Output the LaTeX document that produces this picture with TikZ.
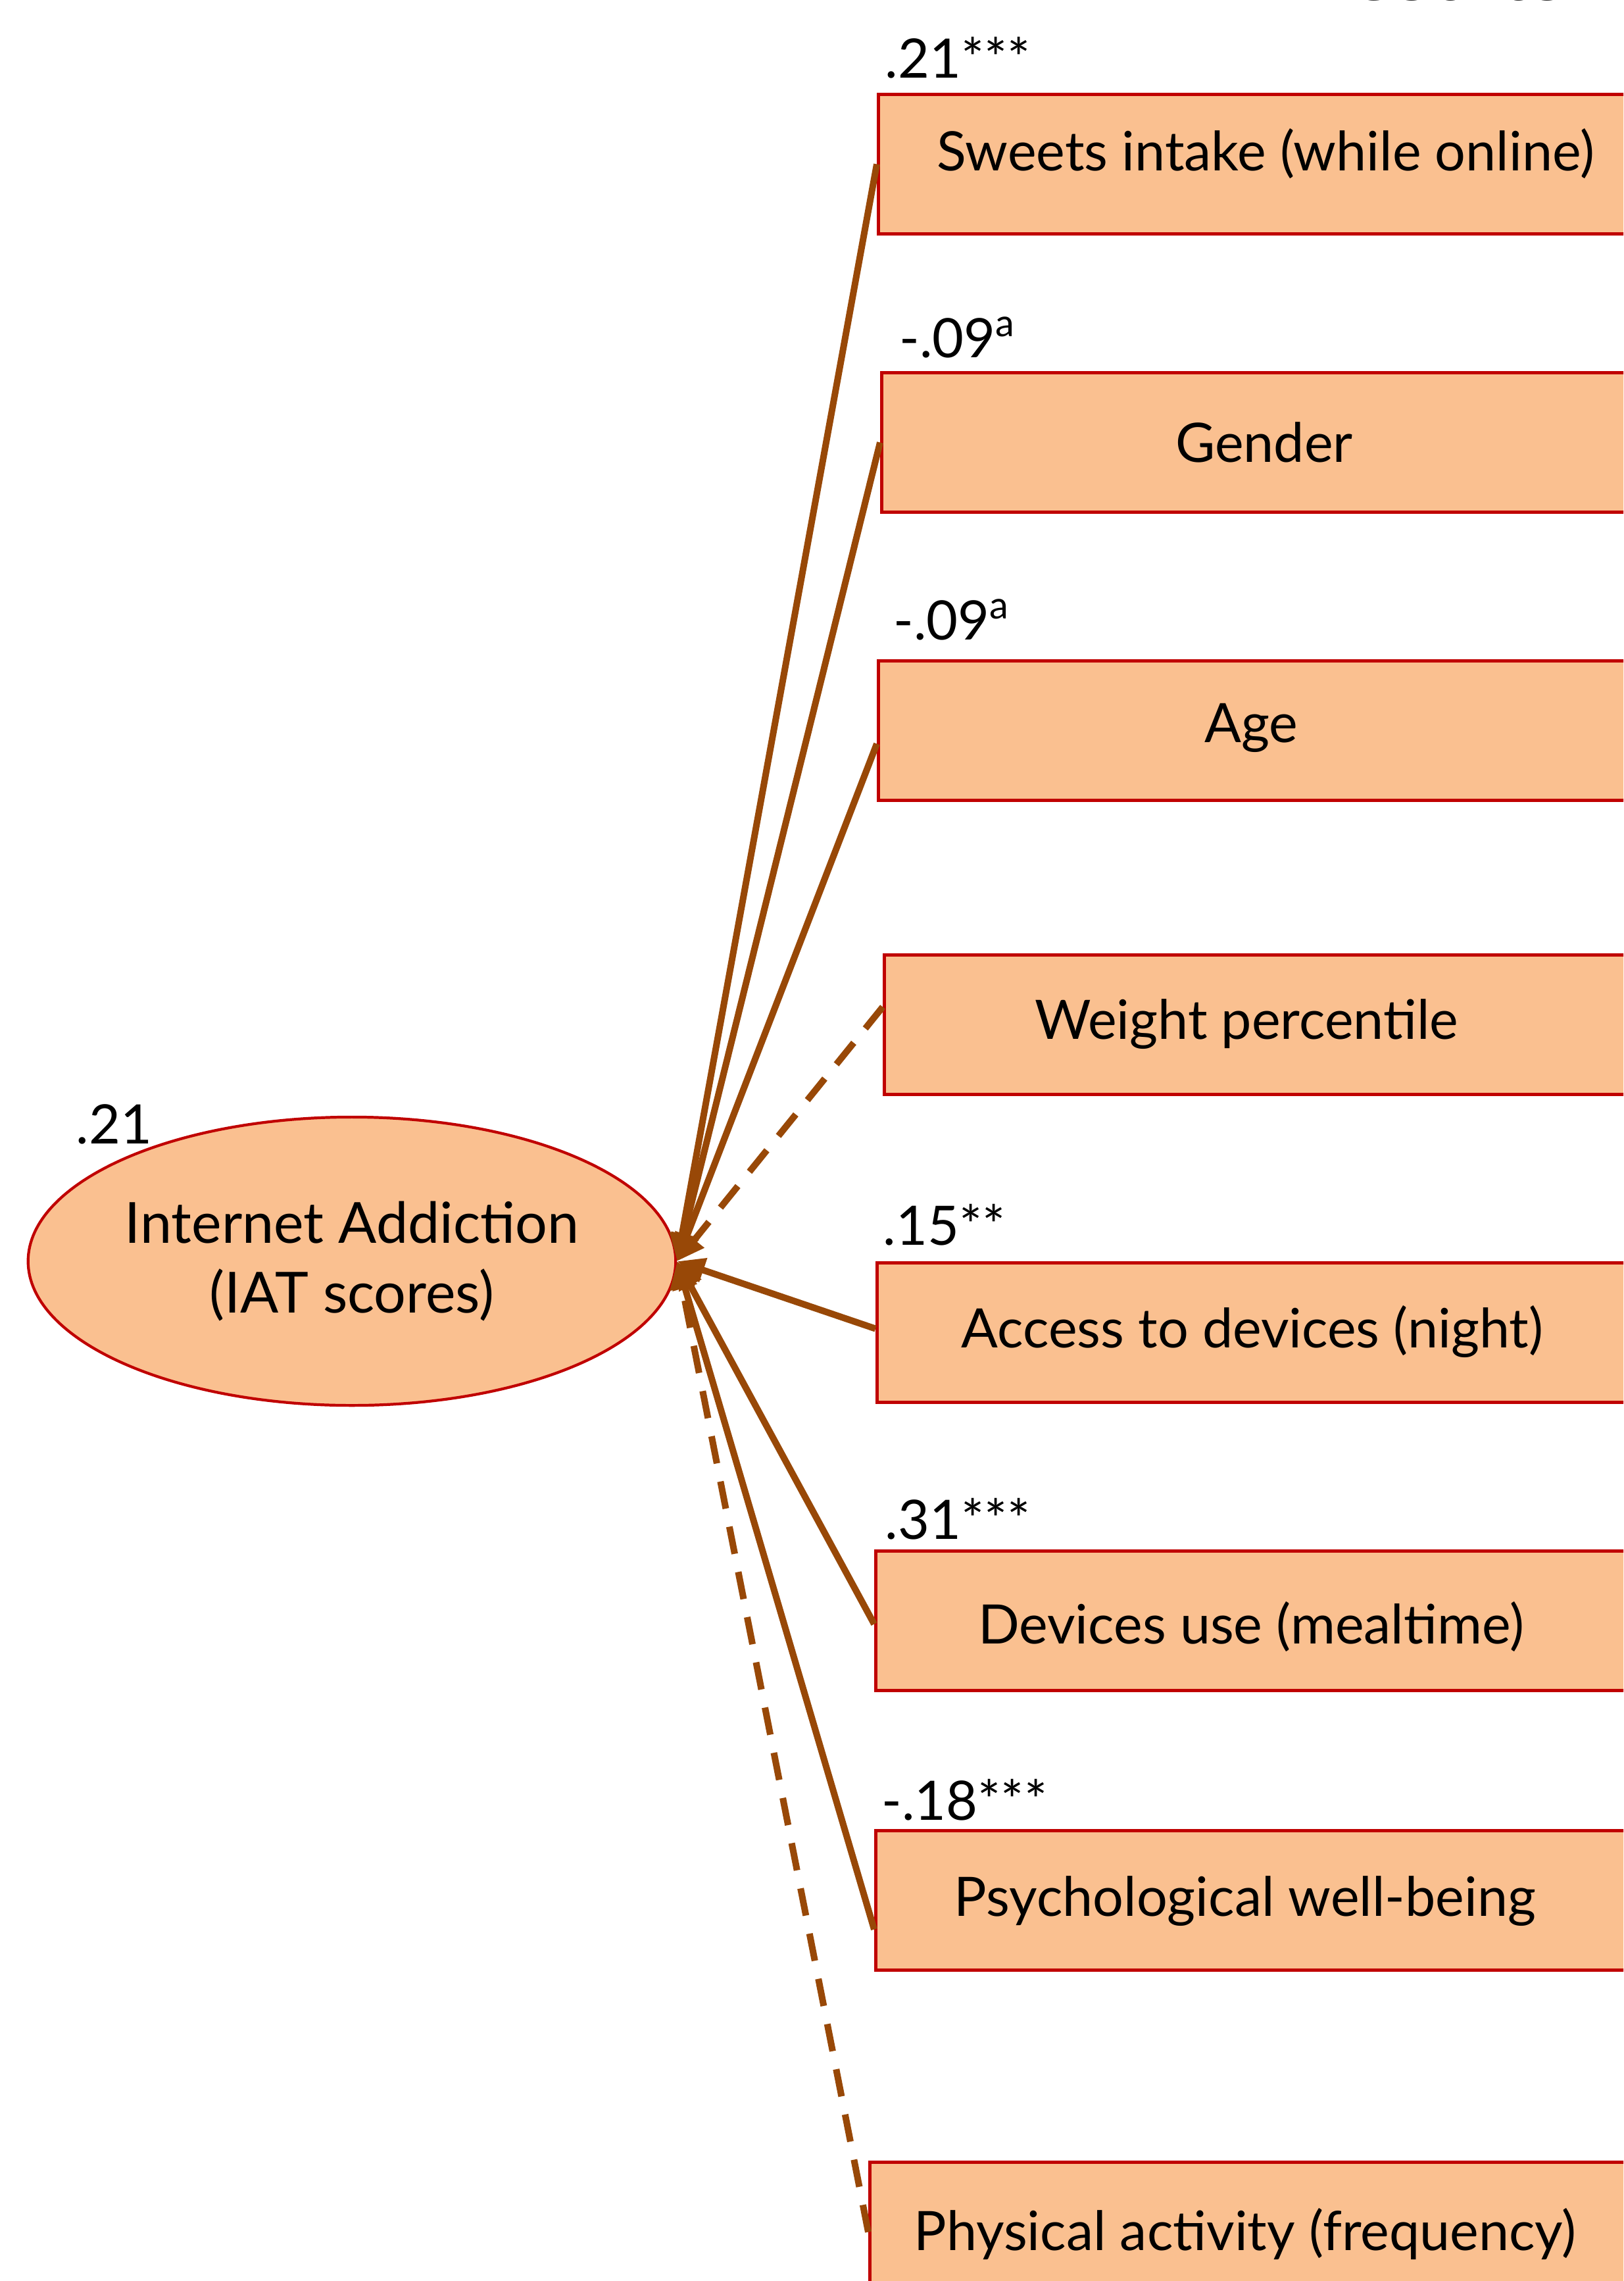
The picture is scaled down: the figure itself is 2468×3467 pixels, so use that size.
\documentclass[tikz,border=0pt]{standalone}
\usepackage{fontspec}
\setmainfont{Lato}
\usetikzlibrary{arrows.meta,calc,shapes.geometric}
\definecolor{boxfill}{HTML}{FAC090}
\definecolor{boxline}{HTML}{C00000}
\definecolor{arr}{HTML}{984807}
\begin{document}
\begin{tikzpicture}[x=0.01cm,y=-0.01cm,
  box/.style={draw=boxline, line width=1.4pt, fill=boxfill, rectangle, minimum height=2.12cm, minimum width=13cm, anchor=north west, inner sep=0pt},
  boxtext/.style={inner sep=0pt, font=\fontsize{23.5}{28}\selectfont},
  ell/.style={draw=boxline, line width=1.2pt, fill=boxfill, ellipse, minimum width=9.84cm, minimum height=4.38cm, inner sep=0pt, align=center, font=\fontsize{24.5}{30}\selectfont},
  coef/.style={anchor=west, inner sep=0pt, font=\fontsize{23.5}{28}\selectfont},
  conn/.style={draw=arr, line width=0.1cm, -{Triangle[length=0.42cm,width=0.36cm]}},
  dconn/.style={conn, dash pattern=on 0.42cm off 0.28cm}
]
\useasboundingbox (0,0) rectangle (2468,3467);
\clip (0,0) rectangle (2468,3467);

\node[anchor=base west, font=\fontsize{36}{40}\selectfont\bfseries, text=black!85, inner sep=0pt] (title) at (1975,1) {Results};

\node[ell] (ia) at (535,1917) {Internet Addiction\\(IAT scores)};
\node[coef] (lia) at (115,1709) {.21};

\node[box] (b1) at (1333,141) {};
\node[box] (b2) at (1338,564) {};
\node[box] (b3) at (1333,1002) {};
\node[box] (b4) at (1342,1449) {};
\node[box] (b5) at (1331,1917) {};
\node[box] (b6) at (1329,2355) {};
\node[box] (b7) at (1329,2780) {};
\node[box] (b8) at (1320,3284) {};

\node[boxtext] (t1) at (1924,234) {Sweets intake (while online)};
\node[boxtext] (t2) at (1922,672) {Gender};
\node[boxtext] (t3) at (1902,1106) {Age};
\node[boxtext] (t4) at (1895,1557) {Weight percentile};
\node[boxtext] (t5) at (1904,2024) {Access to devices (night)};
\node[boxtext] (t6) at (1902,2472) {Devices use (mealtime)};
\node[boxtext] (t7) at (1893,2890) {Psychological well-being};
\node[boxtext] (t8) at (1893,3395) {Physical activity (frequency)};

\node[coef] (l1) at (1345,88) {.21***};
\node[coef] (l2) at (1367,513) {-.09\textsuperscript{a}};
\node[coef] (l3) at (1358,942) {-.09\textsuperscript{a}};
\node[coef] (l5) at (1342,1862) {.15**};
\node[coef] (l6) at (1345,2309) {.31***};
\node[coef] (l7) at (1340,2736) {-.18***};

\draw[conn] (b1.west) -- (ia.east);
\draw[conn] (b2.west) -- (ia.east);
\draw[conn] ([yshift=-0.2cm]b3.west) -- (ia.east);
\draw[dconn] ([yshift=0.27cm]b4.west) -- (ia.east);
\draw[conn] ([yshift=0.06cm]b5.west) -- (ia.east);
\draw[conn] ([yshift=-0.05cm]b6.west) -- (ia.east);
\draw[conn] ([yshift=-0.44cm]b7.west) -- (ia.east);
\draw[dconn] (b8.west) -- (ia.east);
\end{tikzpicture}
\end{document}
